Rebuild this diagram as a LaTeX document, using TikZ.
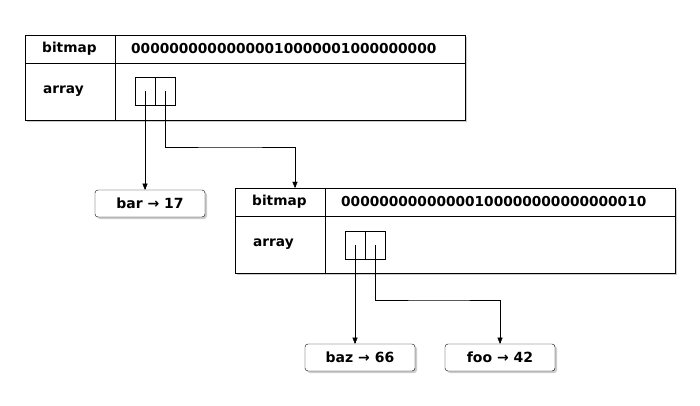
\documentclass[tikz,border=0pt]{standalone}
\usepackage{fontspec}
\setmainfont{DejaVu Sans}
\usetikzlibrary{arrows,calc,positioning,shadows}

\begin{document}
\begin{tikzpicture}
[
                  x =  1pt,
                  y = -1pt,
           ->, >= triangle 45,
       table/.style = { draw=black, fill=white, drop shadow={shadow xshift=2pt, shadow yshift=-2pt, fill=black!40} },
        cell/.style = { draw=black, fill=white, minimum width=20pt, minimum height=28pt, inner sep=0pt },
        leaf/.style = { draw=black, fill=white, rounded corners=3pt, minimum width=110pt, minimum height=27pt,
                        font=\fontsize{14}{16}\selectfont\bfseries, drop shadow={shadow xshift=2pt, shadow yshift=-2pt, fill=black!40} },
       field/.style = { draw=none, anchor=west, inner sep=0pt, font=\fontsize{13.7}{16}\selectfont\bfseries }
]
    \useasboundingbox (0,0) rectangle (700,406);

    % outer table
    \path[-, table] (25,35) rectangle (465,120);
    \draw[-] (115,35) -- (115,120);
    \draw[-] (25,63) -- (465,63);
    \node (OuterBitmapLabel) at (42,49)  [field] {bitmap};
    \node (OuterBitmap)      at (131,49) [field] {00000000000000010000001000000000};
    \node (OuterArrayLabel)  at (43,91)  [field] {array};
    \node (OuterCellA) at (145,91) [cell] {};
    \node (OuterCellB) at (165,91) [cell] {};

    % inner table
    \path[-, table] (235,188) rectangle (675,273);
    \draw[-] (325,188) -- (325,273);
    \draw[-] (235,216) -- (675,216);
    \node (InnerBitmapLabel) at (252,202) [field] {bitmap};
    \node (InnerBitmap)      at (341,202) [field] {00000000000000100000000000000010};
    \node (InnerArrayLabel)  at (253,244) [field] {array};
    \node (InnerCellA) at (355,245) [cell] {};
    \node (InnerCellB) at (375,245) [cell] {};

    % leaves
    \node (Bar) at (150,203.5) [leaf] {bar → 17};
    \node (Baz) at (360,357.5) [leaf] {baz → 66};
    \node (Foo) at (500,357.5) [leaf] {foo → 42};
    \coordinate (InnerTop) at (295,188);

    \draw (OuterCellA.center) -- (OuterCellA.center |- Bar.north);
    \draw (OuterCellB.center) |- (230,147) -| (InnerTop);
    \draw (InnerCellA.center) -- (InnerCellA.center |- Baz.north);
    \draw (InnerCellB.center) |- (440,300) -| (Foo.north);

\end{tikzpicture}
\end{document}
